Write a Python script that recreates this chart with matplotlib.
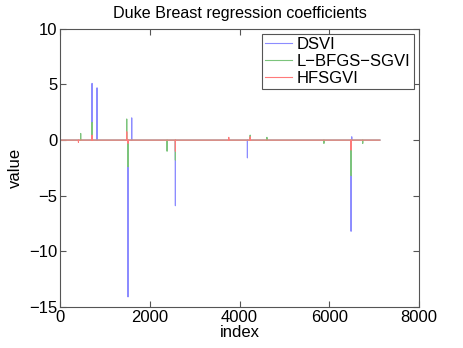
import matplotlib
matplotlib.use("Agg")
import matplotlib.pyplot as plt
import numpy as np

plt.rcParams['font.family'] = ['Liberation Sans', 'DejaVu Sans']

n_coef = 7129

# nonzero coefficients (index, value)
dsvi_idx = [713, 824, 1515, 1597, 2570, 4175, 6485, 6500]
dsvi_val = [5.1, 4.7, -14.1, 2.0, -5.9, -1.6, -8.2, 0.3]

lbfgs_idx = [460, 713, 1486, 1515, 2385, 2570, 4236, 4610, 5880, 6485, 6745]
lbfgs_val = [0.6, 1.6, 1.9, -2.4, -1.0, -1.8, 0.45, 0.25, -0.3, -3.2, -0.3]

hfsgvi_idx = [410, 713, 1486, 1515, 2570, 3760, 4236, 6485]
hfsgvi_val = [-0.2, 0.45, 0.75, -0.3, -1.0, 0.25, 0.3, -0.9]

def coef_array(idx, val):
    c = np.zeros(n_coef)
    c[idx] = val
    return c

index = np.arange(1, n_coef + 1)

fig = plt.figure(figsize=(4.63, 3.48), dpi=100)
ax = fig.add_axes([0.1296, 0.118, 0.7754, 0.799])

ax.plot(index, coef_array(dsvi_idx, dsvi_val), color='#8c8cff', lw=0.8, label='DSVI')
ax.plot(index, coef_array(lbfgs_idx, lbfgs_val), color='#7cc47c', lw=0.8, label='L\u2212BFGS\u2212SGVI')
ax.plot(index, coef_array(hfsgvi_idx, hfsgvi_val), color='#ff7a7a', lw=0.8, label='HFSGVI')

ax.set_xlim(0, 8000)
ax.set_ylim(-15, 10)
ax.set_xticks([0, 2000, 4000, 6000, 8000])
ax.set_yticks([-15, -10, -5, 0, 5, 10])
ax.tick_params(direction='in', top=True, right=True, labelsize=12, length=4,
               color='#555555', pad=2)
for s in ax.spines.values():
    s.set_color('#555555')

ax.set_title('Duke Breast regression coefficients', fontsize=11.6, pad=8)
ax.set_xlabel('index', fontsize=12, labelpad=0)
ax.set_ylabel('value', fontsize=12)

leg = ax.legend(loc='upper right', fontsize=12, fancybox=False, framealpha=1,
                edgecolor='#555555', handlelength=1.6, borderpad=0.2,
                labelspacing=0.1, handletextpad=0.3, borderaxespad=0.3)
leg.get_frame().set_linewidth(0.8)

fig.savefig('out.png', dpi=100)
